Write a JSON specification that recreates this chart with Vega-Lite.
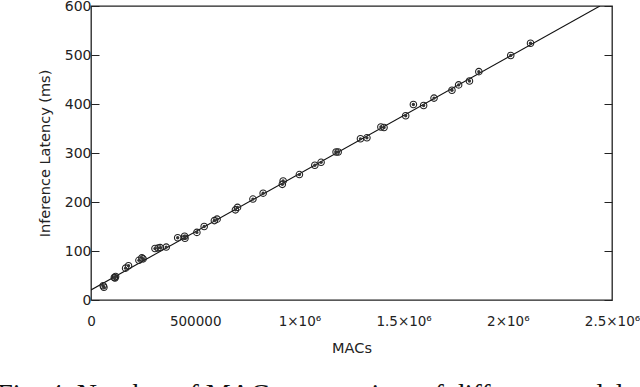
{
  "$schema": "https://vega.github.io/schema/vega-lite/v6.json",
  "autosize": "none",
  "width": 521,
  "height": 294,
  "padding": {"left": 91, "top": 6, "right": 28, "bottom": 87},
  "background": "white",
  "title": {
    "text": "Fig. 4. Number of MACs vs. runtime of different models, with the linear fit",
    "orient": "bottom",
    "anchor": "start",
    "font": "Liberation Serif",
    "fontSize": 28,
    "fontWeight": "normal",
    "color": "#111",
    "offset": 26,
    "dx": -40
  },
  "config": {
    "font": "DejaVu Sans",
    "view": {"stroke": "#222", "strokeWidth": 1.3},
    "axis": {
      "grid": false,
      "domain": false,
      "labelFont": "DejaVu Sans",
      "titleFont": "DejaVu Sans",
      "labelFontSize": 14,
      "titleFontSize": 14.5,
      "titleFontWeight": "normal",
      "labelColor": "#222",
      "titleColor": "#222",
      "tickColor": "#222"
    }
  },
  "datasets": {
    "pts": [
      {"macs": 58600, "latency": 29},
      {"macs": 62000, "latency": 26},
      {"macs": 112000, "latency": 46},
      {"macs": 118000, "latency": 48},
      {"macs": 115000, "latency": 45},
      {"macs": 166000, "latency": 65},
      {"macs": 180000, "latency": 70},
      {"macs": 230000, "latency": 81},
      {"macs": 244000, "latency": 86},
      {"macs": 250000, "latency": 84},
      {"macs": 307000, "latency": 105},
      {"macs": 322000, "latency": 106},
      {"macs": 332000, "latency": 107},
      {"macs": 361000, "latency": 108},
      {"macs": 416000, "latency": 127},
      {"macs": 449000, "latency": 130},
      {"macs": 451000, "latency": 126},
      {"macs": 508000, "latency": 138},
      {"macs": 543000, "latency": 150},
      {"macs": 592000, "latency": 162},
      {"macs": 605000, "latency": 165},
      {"macs": 693000, "latency": 184},
      {"macs": 703000, "latency": 189},
      {"macs": 777000, "latency": 206},
      {"macs": 826000, "latency": 218},
      {"macs": 918000, "latency": 236},
      {"macs": 922000, "latency": 243},
      {"macs": 1000000, "latency": 256},
      {"macs": 1074000, "latency": 275},
      {"macs": 1104000, "latency": 281},
      {"macs": 1176000, "latency": 302},
      {"macs": 1186000, "latency": 302},
      {"macs": 1293000, "latency": 329},
      {"macs": 1324000, "latency": 331},
      {"macs": 1391000, "latency": 353},
      {"macs": 1406000, "latency": 352},
      {"macs": 1510000, "latency": 376},
      {"macs": 1547000, "latency": 399},
      {"macs": 1596000, "latency": 397},
      {"macs": 1646000, "latency": 412},
      {"macs": 1732000, "latency": 428},
      {"macs": 1764000, "latency": 439},
      {"macs": 1816000, "latency": 447},
      {"macs": 1861000, "latency": 466},
      {"macs": 2014000, "latency": 499},
      {"macs": 2109000, "latency": 524}
    ],
    "fit": [
      {"macs": 0, "latency": 20.4},
      {"macs": 2442000, "latency": 600}
    ]
  },
  "resolve": {"axis": {"y": "independent"}},
  "layer": [
    {
      "data": {"name": "fit"},
      "mark": {"type": "line", "color": "#111", "strokeWidth": 1.1, "clip": true},
      "encoding": {
        "x": {
          "field": "macs", "type": "quantitative",
          "scale": {"domain": [0, 2500000], "nice": false, "zero": false},
          "axis": {
            "title": "MACs",
            "values": [0, 500000, 1000000, 1500000, 2000000, 2500000],
            "labelExpr": "datum.value == 0 ? '0' : datum.value == 500000 ? '500000' : (datum.value / 1000000) + '×10⁶'",
            "ticks": false,
            "labelFontSize": 13.5,
            "labelPadding": 14,
            "titlePadding": 14,
            "labelFlush": false,
            "labelOverlap": false
          }
        },
        "y": {
          "field": "latency", "type": "quantitative",
          "scale": {"domain": [0, 600], "nice": false},
          "axis": {
            "title": "Inference Latency (ms)",
            "orient": "left",
            "values": [0, 100, 200, 300, 400, 500, 600],
            "tickSize": -8,
            "labelPadding": 8,
            "titlePadding": 12,
            "labelFlush": false
          }
        }
      }
    },
    {
      "data": {"name": "pts"},
      "mark": {"type": "point", "shape": "circle", "filled": false, "color": "#222", "size": 42, "strokeWidth": 1.1, "opacity": 1},
      "encoding": {
        "x": {"field": "macs", "type": "quantitative"},
        "y": {
          "field": "latency", "type": "quantitative",
          "axis": {
            "orient": "right",
            "title": null,
            "labels": false,
            "values": [0, 100, 200, 300, 400, 500, 600],
            "tickSize": -8
          }
        }
      }
    },
    {
      "data": {"name": "pts"},
      "mark": {"type": "point", "shape": "circle", "filled": true, "color": "#333", "size": 11, "opacity": 1},
      "encoding": {
        "x": {"field": "macs", "type": "quantitative"},
        "y": {"field": "latency", "type": "quantitative", "axis": null}
      }
    }
  ]
}
